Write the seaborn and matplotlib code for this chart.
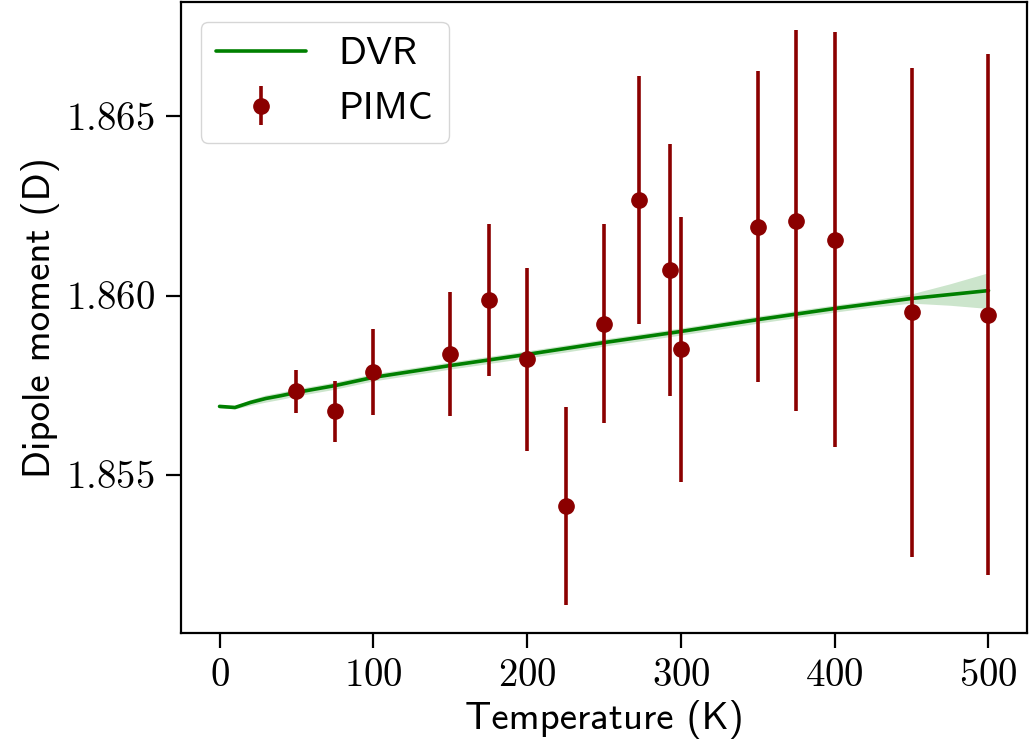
import numpy as np
import pandas as pd
import matplotlib
matplotlib.use("Agg")
import matplotlib.pyplot as plt
from matplotlib.ticker import FuncFormatter, MultipleLocator
import seaborn as sns

# DVR curve
dvr_temp = [0, 10, 20, 30, 40, 50, 75, 100, 150, 200, 250, 300, 350, 400, 425, 450, 475, 500]
dvr_mu = [1.85691, 1.85688, 1.85702, 1.85713, 1.85721, 1.85730, 1.85749, 1.85772,
          1.85805, 1.85836, 1.85869, 1.85900, 1.85933, 1.85964, 1.85978, 1.85992,
          1.86003, 1.86014]
dvr_err = [0.00004, 0.00004, 0.00008, 0.00010, 0.00010, 0.00010, 0.00010, 0.00010,
           0.00010, 0.00010, 0.00010, 0.00010, 0.00010, 0.00010, 0.00010, 0.00013,
           0.00030, 0.00050]

# PIMC points with error bars
pimc_temp = [50, 75, 100, 150, 175, 200, 225, 250, 273, 293, 300, 350, 375, 400, 450, 500]
pimc_mu = [1.85733, 1.85677, 1.85788, 1.85836, 1.85989, 1.85822, 1.85412, 1.85922,
           1.86267, 1.86072, 1.85850, 1.86192, 1.86209, 1.86156, 1.85953, 1.85947]
pimc_err = [0.00060, 0.00084, 0.00120, 0.00173, 0.00212, 0.00254, 0.00276, 0.00277,
            0.00345, 0.00352, 0.00369, 0.00433, 0.00532, 0.00579, 0.00683, 0.00727]

sns.set_style("ticks")
plt.rcParams['font.family'] = ['cmss10', 'DejaVu Sans']
plt.rcParams['mathtext.fontset'] = 'cm'
plt.rcParams['axes.unicode_minus'] = False
plt.rcParams['font.size'] = 28
for k in ['text.color', 'axes.labelcolor', 'xtick.color', 'ytick.color', 'axes.edgecolor']:
    plt.rcParams[k] = 'black'

dvr_df = pd.DataFrame({"T": dvr_temp, "mu": dvr_mu})
lo = np.array(dvr_mu) - np.array(dvr_err)
hi = np.array(dvr_mu) + np.array(dvr_err)

fig = plt.figure(figsize=(10.29, 7.55), dpi=100)
ax = fig.add_subplot(111)
fig.subplots_adjust(left=0.176, right=0.998, top=0.997, bottom=0.162)

ax.fill_between(dvr_temp, lo, hi, color="green", alpha=0.2, linewidth=0)
sns.lineplot(data=dvr_df, x="T", y="mu", ax=ax, color="green", linewidth=2.6, label="DVR")
ax.errorbar(pimc_temp, pimc_mu, yerr=pimc_err, fmt="o", color="darkred",
            markersize=11, elinewidth=2.6, capsize=0, label="PIMC")

ax.set_xlim(-25, 525)
ax.set_ylim(1.85060, 1.86818)
ax.xaxis.set_major_locator(MultipleLocator(100))
ax.yaxis.set_major_locator(MultipleLocator(0.005))
ax.xaxis.set_major_formatter(FuncFormatter(lambda v, p: "$%d$" % round(v)))
ax.yaxis.set_major_formatter(FuncFormatter(lambda v, p: "$%.3f$" % v))

ax.tick_params(axis="both", which="major", length=11, width=1.6, labelsize=28, pad=8)
for s in ax.spines.values():
    s.set_linewidth(1.6)
    s.set_color("black")

ax.set_xlabel("Temperature (K)", fontsize=28)
ax.set_ylabel("Dipole moment (D)", fontsize=28)

ax.legend(loc="upper left", fontsize=28, handlelength=2.3, handletextpad=0.85,
          frameon=True, fancybox=True)

plt.savefig("out.png", dpi=100)
